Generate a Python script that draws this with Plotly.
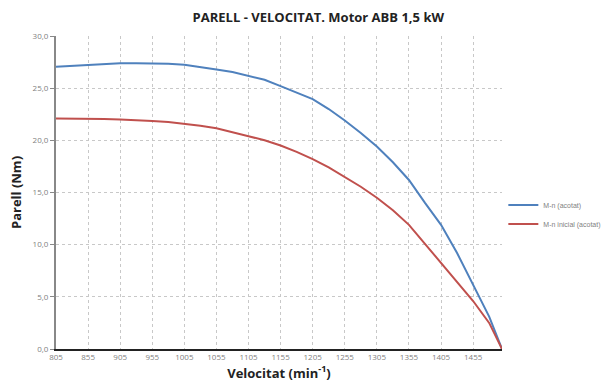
import plotly.graph_objects as go

speed = [805, 830, 855, 880, 905, 930, 955, 980, 1005, 1030, 1055, 1080, 1105, 1130,
         1155, 1180, 1205, 1230, 1255, 1280, 1305, 1330, 1355, 1380, 1405, 1430, 1455, 1480, 1500]
torque_acotat = [27.05, 27.15, 27.25, 27.33, 27.38, 27.4, 27.4, 27.35, 27.25, 27.05, 26.8, 26.55,
                 26.2, 25.8, 25.2, 24.6, 23.95, 23.0, 21.9, 20.7, 19.4, 17.9, 16.2, 14.0, 11.9,
                 9.2, 6.2, 3.1, 0.0]
torque_inicial = [22.1, 22.1, 22.1, 22.05, 22.0, 21.95, 21.85, 21.75, 21.6, 21.4, 21.15, 20.8,
                  20.4, 20.0, 19.5, 18.9, 18.2, 17.4, 16.5, 15.55, 14.5, 13.3, 11.9, 10.1, 8.2,
                  6.4, 4.6, 2.5, 0.0]
x_ticks = [805, 855, 905, 955, 1005, 1055, 1105, 1155, 1205, 1255, 1305, 1355, 1405, 1455]
y_ticks = [0, 5, 10, 15, 20, 25, 30]

fig = go.Figure()
fig.add_trace(go.Scatter(x=speed, y=torque_acotat, mode="lines", name="M-n (acotat)",
                         line=dict(color="#4F81BD", width=2)))
fig.add_trace(go.Scatter(x=speed, y=torque_inicial, mode="lines", name="M-n inicial (acotat)",
                         line=dict(color="#C0504D", width=2)))

fig.update_layout(
    width=604, height=392,
    margin=dict(l=56, r=102, t=36, b=43, autoexpand=False),
    paper_bgcolor="white", plot_bgcolor="white",
    separators=",.",
    font=dict(family="Open Sans, Liberation Sans, sans-serif", color="#595959"),
    title=dict(text="<b>PARELL - VELOCITAT. Motor ABB 1,5 kW</b>", x=0.527, xanchor="center",
               y=0.955, yanchor="middle", font=dict(size=13, color="#222222")),
    legend=dict(x=1.003, y=0.43, xanchor="left", yanchor="middle",
                font=dict(size=7, color="#7f7f7f", family="Liberation Sans, sans-serif"),
                bgcolor="rgba(0,0,0,0)", tracegroupgap=2, itemwidth=30),
    showlegend=True,
)
fig.update_xaxes(
    range=[805, 1500], tickvals=x_ticks, ticktext=[str(v) for v in x_ticks],
    showgrid=True, gridcolor="#c8c8c8", griddash="dot", gridwidth=1,
    showline=True, linecolor="#222222", linewidth=1.5,
    ticks="", tickfont=dict(size=8, color="#7f7f7f"), zeroline=False,
    title=dict(text="<b>Velocitat (min<sup>-1</sup>)</b>", font=dict(size=13, color="#222222"), standoff=6),
)
fig.update_yaxes(
    range=[0, 30], tickvals=y_ticks, tickformat=".1f",
    showgrid=True, gridcolor="#c8c8c8", griddash="dot", gridwidth=1,
    showline=True, linecolor="#888888", linewidth=2,
    ticks="outside", ticklen=4, tickcolor="#888888",
    tickfont=dict(size=8, color="#7f7f7f"), zeroline=False,
    title=dict(text="<b>Parell (Nm)</b>", font=dict(size=13, color="#222222"), standoff=8),
)

fig.write_html("out.html")
